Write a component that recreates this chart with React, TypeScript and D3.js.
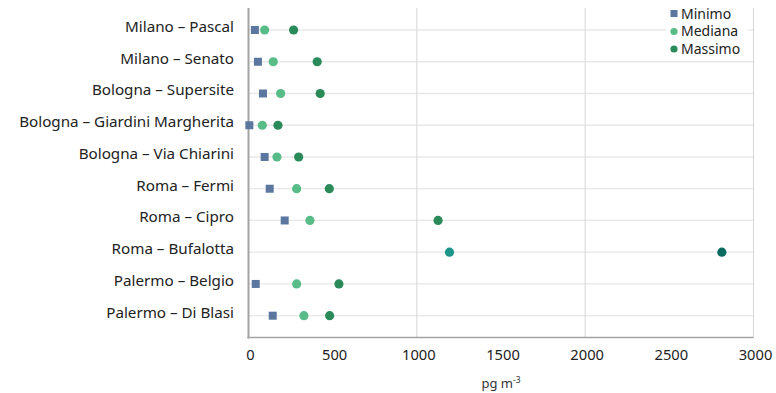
import React from "react";
import * as d3 from "d3";

const categories = [
  "Milano – Pascal",
  "Milano – Senato",
  "Bologna – Supersite",
  "Bologna – Giardini Margherita",
  "Bologna – Via Chiarini",
  "Roma – Fermi",
  "Roma – Cipro",
  "Roma – Bufalotta",
  "Palermo – Belgio",
  "Palermo – Di Blasi",
];
const minimo: (number | null)[] = [38, 56, 86, 5, 96, 126, 215, null, 43, 144];
const mediana: (number | null)[] = [96, 147, 191, 82, 169, 286, 365, 1194, 286, 329];
const massimo: (number | null)[] = [268, 408, 426, 175, 298, 480, 1126, 2812, 537, 482];
const xTicks = [0, 500, 1000, 1500, 2000, 2500, 3000];
const xGrid = [1000, 2000, 3000];
const seriesNames = ["Minimo", "Mediana", "Massimo"];
const highlightCategory = "Roma – Bufalotta";

const W = 776;
const H = 393;
const FONT = "'Noto Sans', 'Open Sans', sans-serif";

const colMin = "#5b77a0";
const colMed = "#57bc87";
const colMax = "#2b8a59";
const colMedHi = "#1e958b";
const colMaxHi = "#0b6a60";

export default function App() {
  const x = d3.scaleLinear().domain([0, 3000]).range([248.5, 753.5]);
  const y = d3.scalePoint<string>().domain(categories).range([30, 315.7]);
  const top = 8;
  const bottom = 337.5;

  return (
    <svg
      width={W}
      height={H}
      style={{ position: "absolute", left: 0, top: 0, background: "#fff" }}
      fontFamily={FONT}
    >
      {categories.map((c) => (
        <line
          key={"h" + c}
          x1={x(0)}
          x2={x(3000)}
          y1={y(c)}
          y2={y(c)}
          stroke="#e8e8e8"
          strokeWidth={1.3}
        />
      ))}
      {xGrid.map((t) => (
        <line key={"v" + t} x1={x(t)} x2={x(t)} y1={top} y2={bottom} stroke="#d6d6d6" strokeWidth={1} />
      ))}
      <line x1={x(0)} x2={x(0)} y1={top} y2={bottom + 1} stroke="#a3a3a3" strokeWidth={2} />
      <line x1={x(0) - 1} x2={x(3000)} y1={bottom} y2={bottom} stroke="#a3a3a3" strokeWidth={1.5} />

      {xTicks.map((t) => (
        <text key={"t" + t} x={x(t) + 2} y={359.5} textAnchor="middle" fontSize={14.7} fill="#222">
          {t}
        </text>
      ))}
      <text x={(x(0) + x(3000)) / 2} y={388} textAnchor="middle" fontSize={13} fill="#333">
        pg m
        <tspan fontSize={8.5} dy={-5}>-3</tspan>
      </text>

      {categories.map((c) => (
        <text key={"c" + c} x={234} y={(y(c) as number) + 1.8} textAnchor="end" fontSize={15.2} fill="#222">
          {c}
        </text>
      ))}

      {categories.map((c, i) => {
        const cy = y(c) as number;
        const hi = c === highlightCategory;
        return (
          <g key={"p" + c}>
            {massimo[i] != null && (
              <circle cx={x(massimo[i] as number)} cy={cy} r={4.6} fill={hi ? colMaxHi : colMax} />
            )}
            {mediana[i] != null && (
              <circle cx={x(mediana[i] as number)} cy={cy} r={4.6} fill={hi ? colMedHi : colMed} />
            )}
            {minimo[i] != null && (
              <rect x={x(minimo[i] as number) - 4} y={cy - 4} width={8} height={8} fill={colMin} />
            )}
          </g>
        );
      })}

      <rect x={666} y={3} width={82} height={54} fill="#fff" />
      {seriesNames.map((s, i) => {
        const ly = 13.5 + i * 17.5;
        return (
          <g key={"l" + s}>
            {i === 0 ? (
              <rect x={670.5} y={ly - 3.5} width={7} height={7} fill={colMin} />
            ) : (
              <circle cx={674} cy={ly + 0.5} r={3.6} fill={i === 1 ? colMed : colMax} />
            )}
            <text x={681} y={ly + 5} fontSize={14} fill="#222">
              {s}
            </text>
          </g>
        );
      })}
    </svg>
  );
}
